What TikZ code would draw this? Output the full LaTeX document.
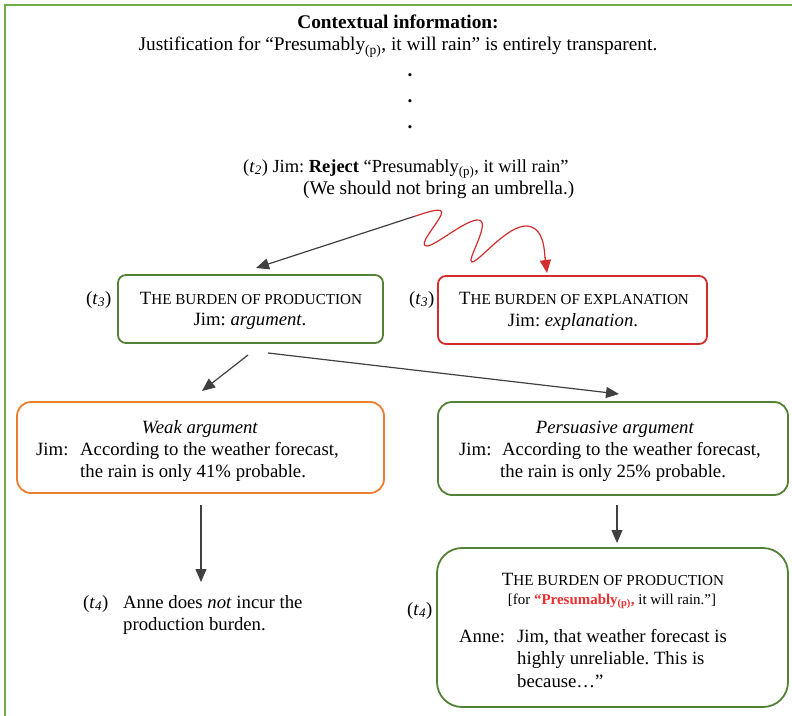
\documentclass[tikz,border=0pt]{standalone}
\usepackage{fontspec}
\setmainfont{Liberation Serif}
\usetikzlibrary{arrows.meta}
\definecolor{framegreen}{HTML}{70AD47}
\definecolor{boxgreen}{HTML}{538135}
\definecolor{boxred}{HTML}{D42B2B}
\definecolor{boxorange}{HTML}{ED7D31}
\definecolor{txtred}{HTML}{EE2E2E}
\definecolor{arrowgrey}{HTML}{404040}
\newcommand{\mainsize}{\fontsize{19.4}{22}\selectfont\frenchspacing}
\newcommand{\boxsize}{\fontsize{18.8}{22}\selectfont\frenchspacing}
\newcommand{\linesize}{\fontsize{18.5}{22}\selectfont\frenchspacing}
\newcommand{\smallsize}{\fontsize{15}{17}\selectfont\frenchspacing}
\newcommand{\fakesc}[2]{#1{\fontsize{15.2}{17}\selectfont #2}}
\newcommand{\tlab}[1]{(\textit{t}\textsubscript{\textit{#1}})}
\tikzset{
  txt/.style={anchor=base west, inner sep=0pt, font=\boxsize},
  ctxt/.style={anchor=base, inner sep=0pt, font=\boxsize},
  box/.style={draw, line width=1.8bp, rounded corners=8bp, inner sep=0pt},
  tip/.style={-{Triangle[length=13bp,width=11bp]}},
  arr/.style={draw=arrowgrey, line width=1.2bp, tip},
}
\begin{document}
\begin{tikzpicture}[x=1bp,y=-1bp]
\useasboundingbox (0,0) rectangle (792,716);
% frame
\draw[framegreen, line width=2.4bp] (5,716) -- (5,5) -- (792,5);
% top texts
\node[ctxt, font=\mainsize] (ctx) at (398,29) {\textbf{Contextual information:}};
\node[ctxt, font=\mainsize] (just) at (398,51) {Justification for “Presumably\textsubscript{(p)}, it will rain” is entirely transparent.};
\node[ctxt, font=\mainsize] (d1) at (410,77) {\textbf{.}};
\node[ctxt, font=\mainsize] (d2) at (410,103) {\textbf{.}};
\node[ctxt, font=\mainsize] (d3) at (410,129) {\textbf{.}};
\node[txt, font=\linesize] (t2) at (243,172) {\tlab{2} Jim: \textbf{Reject} “Presumably\textsubscript{(p)}, it will rain”};
\node[txt, font=\mainsize] (t2b) at (303,194) {(We should not bring an umbrella.)};
% boxes
\node[box, draw=boxgreen, minimum width=265bp, minimum height=68bp] (A) at (250.5,309) {};
\node[box, draw=boxred, minimum width=269bp, minimum height=68bp] (B) at (572.5,310) {};
\node[box, draw=boxorange, rounded corners=14bp, minimum width=367bp, minimum height=91bp] (C) at (200.5,447.5) {};
\node[box, draw=boxgreen, rounded corners=14bp, minimum width=350bp, minimum height=93bp] (D) at (613,448.5) {};
\node[box, draw=boxgreen, rounded corners=25bp, minimum width=351bp, minimum height=159bp] (E) at (612.5,627.5) {};
% box A
\node[txt] (t3a) at (86,304) {\tlab{3}};
\node[ctxt] (Aa) at (251,304) {\fakesc{T}{HE BURDEN OF PRODUCTION}};
\node[ctxt] (Ab) at (250,325) {Jim: \textit{argument}.};
% box B
\node[txt] (t3b) at (409,304) {\tlab{3}};
\node[ctxt] (Ba) at (574,304) {\fakesc{T}{HE BURDEN OF EXPLANATION}};
\node[ctxt] (Bb) at (573,326) {Jim: \textit{explanation}.};
% box C
\node[ctxt] (Ca) at (200,433) {\textit{Weak argument}};
\node[txt] (Cb) at (36,455) {Jim:};
\node[txt] (Cc) at (80,455) {According to the weather forecast,};
\node[txt] (Cd) at (80,477) {the rain is only 41\% probable.};
% box D
\node[ctxt] (Da) at (615,433) {\textit{Persuasive argument}};
\node[txt] (Db) at (459,455) {Jim:};
\node[txt] (Dc) at (502,455) {According to the weather forecast,};
\node[txt] (Dd) at (500,477) {the rain is only 25\% probable.};
% left t4
\node[txt] (t4a) at (83,608) {\tlab{4}};
\node[txt] (La) at (123,608) {Anne does \textit{not} incur the};
\node[txt] (Lb) at (123,630) {production burden.};
% box E
\node[txt] (t4b) at (407,615) {\tlab{4}};
\node[ctxt] (Ea) at (613,585) {\fakesc{T}{HE BURDEN OF PRODUCTION}};
\node[ctxt, font=\smallsize] (Eb) at (612,604) {[for \textcolor{txtred}{\textbf{“Presumably\textsubscript{(p)},}} it will rain.”]};
\node[txt] (Ec) at (459,642) {Anne:};
\node[txt] (Ed) at (517,642) {Jim, that weather forecast is};
\node[txt] (Ee) at (517,664) {highly unreliable. This is};
\node[txt] (Ef) at (517,687) {because…”};
% connectors
\coordinate (s1) at (414,216.5);
\coordinate (tA) at (256,268);
\coordinate (tB) at (547,273);
\coordinate (a3s) at (248,355);
\coordinate (a3e) at (202,391);
\coordinate (a4s) at (268,353);
\coordinate (a4e) at (619,394);
\coordinate (a5s) at (201,505);
\coordinate (a5e) at (201,582);
\coordinate (a6s) at (617,505);
\coordinate (a6e) at (617,543);
\draw[arr] (s1) -- (tA);
\draw[draw=boxred, line width=1.2bp] (s1) .. controls (425,213) and (446,205) .. (441,215)
  .. controls (436,226) and (417,246) .. (427,246)
  .. controls (436,246) and (472,214) .. (481,221)
  .. controls (488,227) and (466,262) .. (472,262)
  .. controls (479,262) and (507,225) .. (527,226)
  .. controls (540,227) and (544,240) .. (545,258);
\draw[draw=boxred, line width=1.2bp, tip] (545,257) -- (tB);
\draw[arr] (a3s) -- (a3e);
\draw[arr] (a4s) -- (a4e);
\draw[arr] (a5s) -- (a5e);
\draw[arr] (a6s) -- (a6e);
\end{tikzpicture}
\end{document}
